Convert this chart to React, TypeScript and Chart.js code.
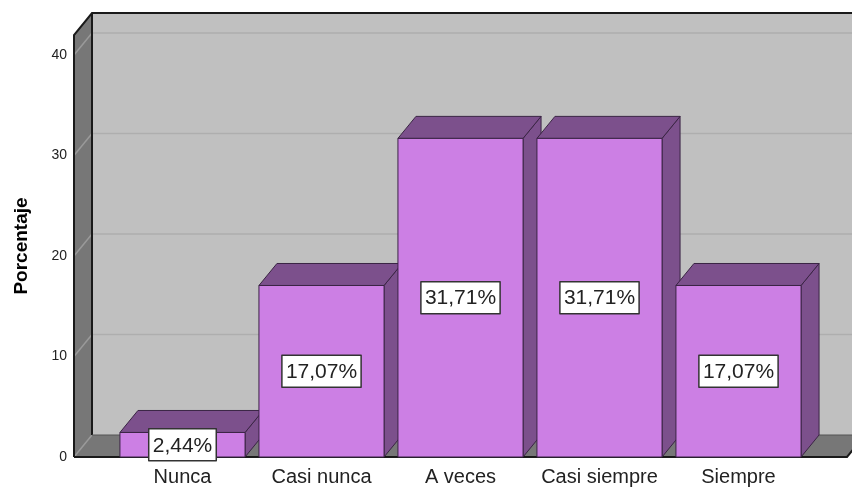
import React, { useEffect, useRef } from "react";
import { Chart, registerables } from "chart.js";

Chart.register(...registerables);

const categories = ["Nunca", "Casi nunca", "A veces", "Casi siempre", "Siempre"];
const percentages = [2.44, 17.07, 31.71, 31.71, 17.07];
const yMin = 0;
const yMax = 42;
const yStep = 10;
const yTitle = "Porcentaje";

const FONT = '"Liberation Sans", Arial, Helvetica, sans-serif';

const DX = 18;
const DY = 22;
const EXT = 39;

const COLORS = {
  backWall: "#C0C0C0",
  sideWall: "#777777",
  grid: "#AEAEAE",
  gridDiag: "#9A9A9A",
  edge: "#1A1A1A",
  barFront: "#CC7FE4",
  barDark: "#7C508C",
  barEdge: "#3A2444",
};

const format = (v: number) => v.toFixed(2).replace(".", ",") + "%";

const threeD = {
  id: "threeD",
  beforeDatasetsDraw(chart: any) {
    const { ctx, chartArea } = chart;
    const ys = chart.scales.y;
    const L = chartArea.left - EXT;
    const R = chartArea.right + EXT;
    const T = chartArea.top;
    const B = ys.getPixelForValue(0);
    ctx.save();
    // back wall
    ctx.fillStyle = COLORS.backWall;
    ctx.fillRect(L + DX, T - DY, R - L + 40, B - T);
    // left wall
    ctx.fillStyle = COLORS.sideWall;
    ctx.beginPath();
    ctx.moveTo(L, T);
    ctx.lineTo(L + DX, T - DY);
    ctx.lineTo(L + DX, B - DY);
    ctx.lineTo(L, B);
    ctx.closePath();
    ctx.fill();
    // floor
    ctx.beginPath();
    ctx.moveTo(L, B);
    ctx.lineTo(L + DX, B - DY);
    ctx.lineTo(R + DX, B - DY);
    ctx.lineTo(R, B);
    ctx.closePath();
    ctx.fill();
    // grid lines
    ctx.lineWidth = 1.5;
    ys.ticks.forEach((t: any) => {
      const y = ys.getPixelForValue(t.value);
      ctx.strokeStyle = COLORS.gridDiag;
      ctx.beginPath();
      ctx.moveTo(L, y);
      ctx.lineTo(L + DX, y - DY);
      ctx.stroke();
      if (t.value !== 0) {
        ctx.strokeStyle = COLORS.grid;
        ctx.beginPath();
        ctx.moveTo(L + DX, y - DY);
        ctx.lineTo(R + DX + 40, y - DY);
        ctx.stroke();
      }
    });
    // edges
    ctx.strokeStyle = COLORS.edge;
    ctx.lineWidth = 2;
    ctx.beginPath();
    ctx.moveTo(L, B);
    ctx.lineTo(L, T);
    ctx.lineTo(L + DX, T - DY);
    ctx.lineTo(R + DX + 40, T - DY);
    ctx.moveTo(L + DX, T - DY);
    ctx.lineTo(L + DX, B - DY);
    ctx.stroke();
    ctx.lineWidth = 1;
    ctx.strokeStyle = "#555";
    ctx.beginPath();
    ctx.moveTo(L + DX, B - DY);
    ctx.lineTo(R + DX + 40, B - DY);
    ctx.stroke();
    ctx.lineWidth = 2;
    ctx.strokeStyle = COLORS.edge;
    ctx.beginPath();
    ctx.moveTo(L, B);
    ctx.lineTo(R, B);
    ctx.lineTo(R + DX, B - DY);
    ctx.stroke();
    ctx.restore();
  },
  afterDatasetsDraw(chart: any) {
    const { ctx } = chart;
    const meta = chart.getDatasetMeta(0);
    ctx.save();
    ctx.lineWidth = 1;
    ctx.strokeStyle = COLORS.barEdge;
    ctx.lineJoin = "round";
    meta.data.forEach((el: any) => {
      const { x, y, base, width } = el.getProps(["x", "y", "base", "width"], true);
      const l = x - width / 2;
      const r = x + width / 2;
      // side
      ctx.fillStyle = COLORS.barDark;
      ctx.beginPath();
      ctx.moveTo(r, y);
      ctx.lineTo(r + DX, y - DY);
      ctx.lineTo(r + DX, base - DY);
      ctx.lineTo(r, base);
      ctx.closePath();
      ctx.fill();
      ctx.stroke();
      // top
      ctx.beginPath();
      ctx.moveTo(l, y);
      ctx.lineTo(l + DX, y - DY);
      ctx.lineTo(r + DX, y - DY);
      ctx.lineTo(r, y);
      ctx.closePath();
      ctx.fill();
      ctx.stroke();
      // front
      ctx.fillStyle = COLORS.barFront;
      ctx.fillRect(l, y, width, base - y);
      ctx.strokeRect(l, y, width, base - y);
    });
    // value labels
    ctx.font = `21px ${FONT}`;
    ctx.textAlign = "center";
    ctx.textBaseline = "middle";
    meta.data.forEach((el: any, i: number) => {
      const { x, y, base } = el.getProps(["x", "y", "base"], true);
      const txt = format(percentages[i]);
      const w = ctx.measureText(txt).width + 8;
      const h = 32;
      const cy = (y + base) / 2;
      ctx.fillStyle = "#FFFFFF";
      ctx.fillRect(x - w / 2, cy - h / 2, w, h);
      ctx.strokeStyle = "#333333";
      ctx.lineWidth = 1.5;
      ctx.strokeRect(x - w / 2, cy - h / 2, w, h);
      ctx.fillStyle = "#222222";
      ctx.fillText(txt, x, cy + 1);
    });
    ctx.restore();
  },
};

export default function App() {
  const ref = useRef<HTMLCanvasElement | null>(null);
  useEffect(() => {
    if (!ref.current) return;
    const chart = new Chart(ref.current, {
      type: "bar",
      data: {
        labels: categories,
        datasets: [
          {
            data: percentages,
            backgroundColor: "rgba(0,0,0,0)",
            borderWidth: 0,
            categoryPercentage: 0.9,
            barPercentage: 1,
          },
        ],
      },
      options: {
        responsive: false,
        animation: false,
        devicePixelRatio: 1,
        layout: { padding: { top: 35, right: 44, left: 0, bottom: 0 } },
        plugins: { legend: { display: false }, tooltip: { enabled: false } },
        scales: {
          x: {
            type: "category",
            offset: true,
            grid: { display: false, drawTicks: false },
            border: { display: false },
            ticks: {
              color: "#222",
              font: { family: FONT, size: 20 },
              padding: 8,
              autoSkip: false,
              maxRotation: 0,
            },
            afterFit: (s: any) => {
              s.height = 31;
              s.paddingLeft = 0;
              s.paddingRight = 0;
            },
          },
          y: {
            min: yMin,
            max: yMax,
            grid: { display: false, drawTicks: false },
            border: { display: false },
            ticks: {
              stepSize: yStep,
              includeBounds: false,
              padding: 46,
              color: "#222",
              font: { family: FONT, size: 14 },
            },
            title: {
              display: true,
              text: yTitle,
              color: "#000",
              font: { family: FONT, size: 19, weight: "bold" },
              padding: { top: 10, bottom: 0 },
            },
            afterFit: (s: any) => {
              s.width = 113;
              s.paddingTop = 0;
              s.paddingBottom = 0;
            },
          },
        },
      } as any,
      plugins: [threeD],
    });
    return () => chart.destroy();
  }, []);
  return (
    <div style={{ position: "fixed", left: 0, top: 0, width: 852, height: 488, background: "#fff" }}>
      <canvas ref={ref} width={852} height={488} style={{ width: 852, height: 488, display: "block" }} />
    </div>
  );
}
